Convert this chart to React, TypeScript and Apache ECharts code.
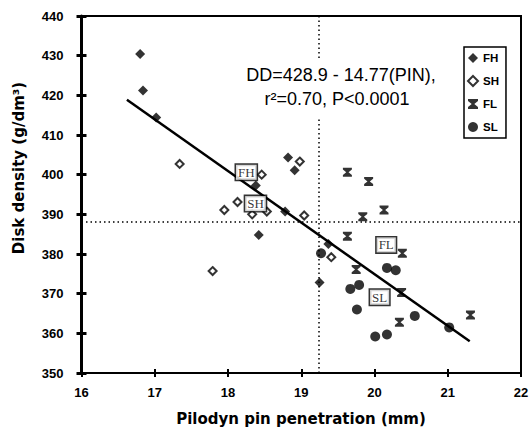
import React, { useEffect, useRef } from "react";
import * as echarts from "echarts";

// ---- data ----
const fhPoints: number[][] = [
  [16.8, 430.4], [16.84, 421.2], [17.02, 414.4], [18.82, 404.3], [18.91, 401.1],
  [18.38, 397.3], [18.78, 390.7], [18.42, 384.8], [19.37, 382.5], [19.25, 372.8],
];
const shPoints: number[][] = [
  [17.34, 402.7], [17.79, 375.7], [17.95, 391.1], [18.13, 393.1], [18.33, 390.0],
  [18.46, 400.0], [18.53, 390.7], [18.98, 403.3], [19.04, 389.7], [19.41, 379.2],
];
const flPoints: number[][] = [
  [19.63, 400.6], [19.92, 398.3], [20.13, 391.1], [19.84, 389.4], [19.63, 384.5],
  [20.38, 380.2], [19.75, 376.1], [20.37, 370.3], [21.31, 364.6], [20.34, 362.8],
];
const slPoints: number[][] = [
  [19.27, 380.2], [20.17, 376.5], [20.29, 375.9], [19.67, 371.2], [19.79, 372.2],
  [19.76, 366.0], [20.55, 364.4], [21.02, 361.5], [20.01, 359.2], [20.17, 359.7],
];
const regressionLine: number[][] = [[16.62, 418.9], [21.3, 358.0]];
const groupLabels: (number | string)[][] = [
  [18.25, 400.6, "FH"], [18.375, 392.7, "SH"], [20.16, 382.3, "FL"], [20.07, 369.1, "SL"],
];
const meanPin = 19.24;
const meanDensity = 388.1;
const seriesNames = ["FH", "SH", "FL", "SL"];
const xRange = { min: 16, max: 22, interval: 1 };
const yRange = { min: 350, max: 440, interval: 10 };
const equationLines = ["DD=428.9 - 14.77(PIN),", "r\u00B2=0.70, P<0.0001"];
const xTitle = "Pilodyn pin penetration (mm)";
const yTitle = "Disk density (g/dm\u00B3)";

const hourglass = "path://M0,0L10,0L10,2L6.3,5L10,8L10,10L0,10L0,8L3.7,5L0,2Z";
const SANS = "'Liberation Sans', Arial, sans-serif";
const BOLD_SANS = "'DejaVu Sans', sans-serif";

export default function App() {
  const ref = useRef<HTMLDivElement>(null);
  useEffect(() => {
    if (!ref.current) return;
    const chart = echarts.init(ref.current, undefined, { renderer: "svg" });
    const axisCommonX = { type: "value", ...xRange, splitLine: { show: false } };
    const axisCommonY = { type: "value", ...yRange, splitLine: { show: false } };
    const option: any = {
      animation: false,
      backgroundColor: "#fff",
      grid: {
        left: 81.5, right: 11, top: 16, bottom: 63,
        show: true, borderColor: "#000", borderWidth: 2, backgroundColor: "transparent",
      },
      xAxis: [
        {
          ...axisCommonX,
          position: "bottom",
          axisLine: { show: true, onZero: false, lineStyle: { color: "#000", width: 2 } },
          axisTick: { show: true, inside: false, length: 4, lineStyle: { color: "#000", width: 2 } },
          axisLabel: { margin: 13, color: "#000", fontFamily: SANS, fontWeight: "bold", fontSize: 13 },
        },
        {
          ...axisCommonX,
          position: "bottom",
          axisLine: { show: false },
          axisTick: { show: true, inside: true, length: 4, lineStyle: { color: "#000", width: 2 } },
          axisLabel: { show: false },
        },
      ],
      yAxis: [
        {
          ...axisCommonY,
          position: "left",
          axisLine: { show: true, onZero: false, lineStyle: { color: "#000", width: 3 } },
          axisTick: { show: true, inside: false, length: 5, lineStyle: { color: "#000", width: 3 } },
          axisLabel: { margin: 18, color: "#000", fontFamily: SANS, fontWeight: "bold", fontSize: 13 },
        },
        {
          ...axisCommonY,
          position: "left",
          axisLine: { show: false },
          axisTick: { show: true, inside: true, length: 5, lineStyle: { color: "#000", width: 3 } },
          axisLabel: { show: false },
        },
      ],
      legend: {
        data: seriesNames,
        orient: "vertical",
        left: 464,
        top: 47,
        itemWidth: 10,
        itemHeight: 10,
        itemGap: 11,
        padding: [5, 7, 5, 3],
        borderColor: "#000",
        borderWidth: 1.5,
        backgroundColor: "#fff",
        textStyle: { color: "#000", fontFamily: SANS, fontWeight: "bold", fontSize: 11.5 },
      },
      series: [
        {
          name: "regression",
          type: "line",
          data: regressionLine,
          symbol: "none",
          lineStyle: { color: "#000", width: 2.5 },
          z: 3,
          markLine: {
            silent: true,
            symbol: "none",
            label: { show: false },
            lineStyle: { color: "#000", width: 1.5, type: [1.5, 3] },
            data: [{ xAxis: meanPin }, { yAxis: meanDensity }],
          },
        },
        {
          name: "FH", type: "scatter", data: fhPoints, symbol: "diamond", symbolSize: 10,
          itemStyle: { color: "#000" }, z: 4,
        },
        {
          name: "SH", type: "scatter", data: shPoints, symbol: "diamond", symbolSize: 8,
          itemStyle: { color: "#fff", borderColor: "#000", borderWidth: 2 }, z: 4,
        },
        {
          name: "FL", type: "scatter", data: flPoints, symbol: hourglass, symbolSize: 9,
          itemStyle: { color: "#000" }, z: 4,
        },
        {
          name: "SL", type: "scatter", data: slPoints, symbol: "circle", symbolSize: 10,
          itemStyle: { color: "#000" }, z: 4,
        },
        {
          name: "groupLabels",
          type: "scatter",
          data: groupLabels,
          symbolSize: 1,
          itemStyle: { color: "transparent" },
          silent: true,
          z: 6,
          label: {
            show: true,
            position: "inside",
            formatter: (p: any) => p.value[2],
            fontFamily: "'Liberation Serif', 'Times New Roman', serif",
            fontSize: 13,
            color: "#000",
            backgroundColor: "#fff",
            borderColor: "#000",
            borderWidth: 1.5,
            padding: [1, 2, 0, 2],
            lineHeight: 14,
          },
        },
      ],
      graphic: [
        { type: "rect", z: 50, shape: { x: 311, y: 58, width: 16, height: 59 }, style: { fill: "#fff" } },
        {
          type: "text", z: 51, x: 341, y: 75,
          style: { text: equationLines[0], fontFamily: SANS, fontSize: 18, fill: "#000", align: "center", verticalAlign: "middle" },
        },
        {
          type: "text", z: 51, x: 337, y: 99,
          style: { text: equationLines[1], fontFamily: SANS, fontSize: 18, fill: "#000", align: "center", verticalAlign: "middle" },
        },
        {
          type: "text", z: 51, x: 301, y: 419,
          style: { text: xTitle, fontFamily: BOLD_SANS, fontWeight: "bold", fontSize: 15, fill: "#000", align: "center", verticalAlign: "middle" },
        },
        {
          type: "text", z: 51, x: 19, y: 168, rotation: Math.PI / 2,
          style: { text: yTitle, fontFamily: BOLD_SANS, fontWeight: "bold", fontSize: 15, fill: "#000", align: "center", verticalAlign: "middle" },
        },
      ],
    };
    chart.setOption(option);
    return () => chart.dispose();
  }, []);
  return (
    <div
      ref={ref}
      style={{ position: "absolute", left: 0, top: 0, width: 532, height: 436, background: "#fff" }}
    />
  );
}
